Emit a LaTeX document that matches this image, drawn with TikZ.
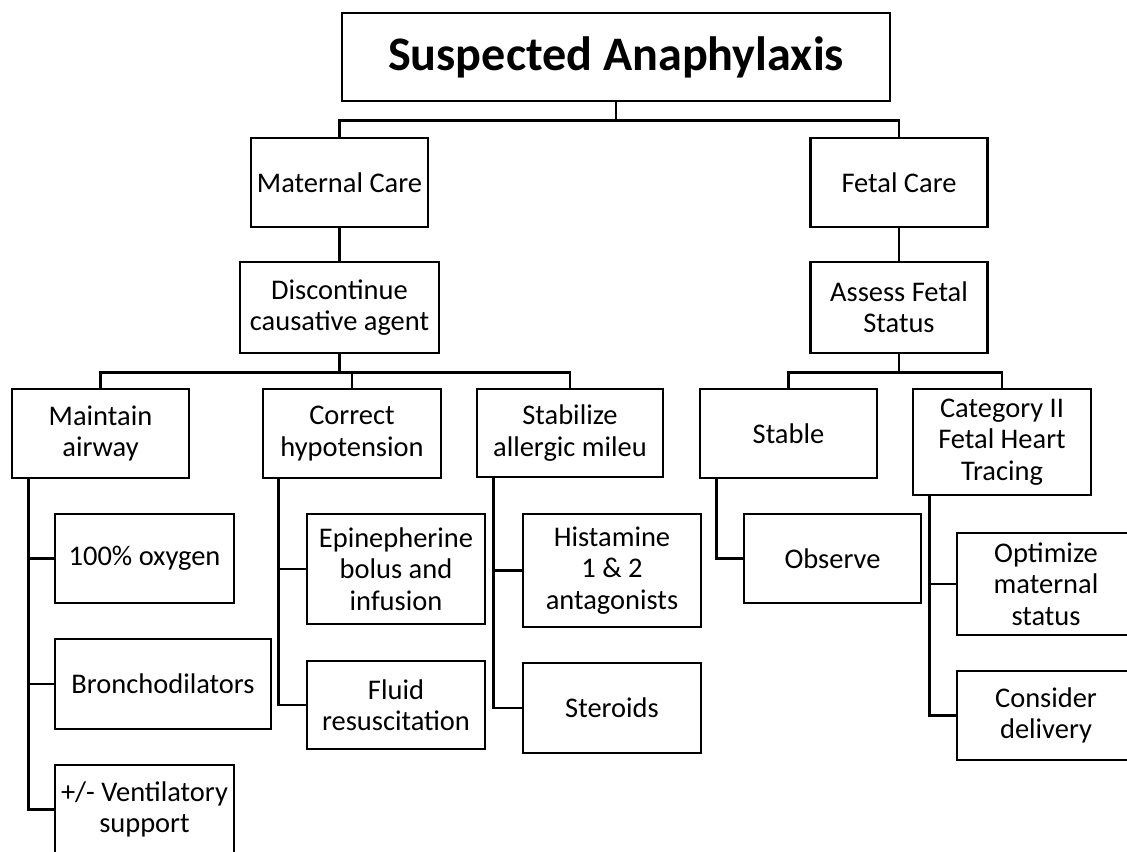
\documentclass[tikz,border=0pt]{standalone}
\usepackage{fontspec}
\setmainfont{Carlito}
\usepackage{tikz}
\usepackage{xcolor}

\begin{document}
\begin{tikzpicture}[
    box/.style={draw, line width=1.5pt, align=center, inner sep=2pt,
        font=\fontsize{16.2}{17.8}\selectfont},
    titlebox/.style={draw, line width=1.5pt, align=center,
        font=\fontsize{27.4}{32}\selectfont\bfseries},
    link/.style={line width=1.5pt}]
    \useasboundingbox (0,0) rectangle (22.54,-17.04);

    \node[titlebox, minimum width=10.96cm, minimum height=1.76cm] (title) at (12.32,-1.14) {Suspected Anaphylaxis};

    % Second and third rows
    \node[box, minimum width=3.54cm, minimum height=1.78cm] (maternal) at (6.79,-3.65) {Maternal Care};
    \node[box, minimum width=3.54cm, minimum height=1.78cm] (fetal) at (17.98,-3.65) {Fetal Care};
    \node[box, minimum width=3.98cm, minimum height=1.82cm] (discont) at (6.79,-6.15) {Discontinue\\causative agent};
    \node[box, minimum width=3.54cm, minimum height=1.82cm] (assess) at (17.98,-6.15) {Assess Fetal\\Status};

    % Fourth row
    \node[box, minimum width=3.54cm, minimum height=1.78cm] (airway) at (2.01,-8.67) {Maintain\\airway};
    \node[box, minimum width=3.56cm, minimum height=1.78cm] (hypo) at (7.04,-8.67) {Correct\\hypotension};
    \node[box, minimum width=3.72cm, minimum height=1.76cm] (allergic) at (11.40,-8.66) {Stabilize\\allergic mileu};
    \node[box, minimum width=3.54cm, minimum height=1.78cm] (stable) at (15.77,-8.67) {Stable};
    \node[box, minimum width=3.56cm, minimum height=2.12cm] (cat) at (20.04,-8.84) {Category II\\Fetal Heart\\Tracing};

    % Leaves
    \node[box, minimum width=3.58cm, minimum height=1.78cm] (oxygen) at (2.89,-11.17) {100\% oxygen};
    \node[box, minimum width=4.32cm, minimum height=1.80cm] (broncho) at (3.26,-13.68) {Bronchodilators};
    \node[box, minimum width=3.58cm, minimum height=1.78cm] (vent) at (2.89,-16.19) {+/- Ventilatory\\support};
    \node[box, minimum width=3.56cm, minimum height=2.20cm] (epi) at (7.92,-11.38) {Epinepherine\\bolus and\\infusion};
    \node[box, minimum width=3.56cm, minimum height=1.76cm] (fluid) at (7.92,-14.10) {Fluid\\resuscitation};
    \node[box, minimum width=3.56cm, minimum height=2.26cm] (hist) at (12.24,-11.41) {Histamine\\1 \& 2\\antagonists};
    \node[box, minimum width=3.56cm, minimum height=1.80cm] (steroids) at (12.24,-14.16) {Steroids};
    \node[box, minimum width=3.54cm, minimum height=1.78cm] (observe) at (16.65,-11.17) {Observe};
    \node[box, minimum width=3.56cm, minimum height=2.04cm] (optimize) at (20.92,-11.68) {Optimize\\maternal\\status};
    \node[box, minimum width=3.56cm, minimum height=1.78cm] (consider) at (20.92,-14.31) {Consider\\delivery};

    % Tree links
    \draw[link] (title.south) -- ++(0,-0.36) -| (maternal.north);
    \draw[link] (title.south) -- ++(0,-0.36) -| (fetal.north);
    \draw[link] (maternal.south) -- (discont.north);
    \draw[link] (fetal.south) -- (assess.north);
    \draw[link] (discont.south) -- ++(0,-0.36) -| (airway.north);
    \draw[link] (discont.south) -- ++(0,-0.36) -| (hypo.north);
    \draw[link] (discont.south) -- ++(0,-0.36) -| (allergic.north);
    \draw[link] (assess.south) -- ++(0,-0.36) -| (stable.north);
    \draw[link] (assess.south) -- ++(0,-0.36) -| (cat.north);

    % Side trunks to the leaves
    \draw[link] ([xshift=0.36cm]airway.south west) |- (oxygen.west);
    \draw[link] ([xshift=0.36cm]airway.south west) |- (broncho.west);
    \draw[link] ([xshift=0.36cm]airway.south west) |- (vent.west);
    \draw[link] ([xshift=0.34cm]hypo.south west) |- (epi.west);
    \draw[link] ([xshift=0.34cm]hypo.south west) |- (fluid.west);
    \draw[link] ([xshift=0.36cm]allergic.south west) |- (hist.west);
    \draw[link] ([xshift=0.36cm]allergic.south west) |- (steroids.west);
    \draw[link] ([xshift=0.36cm]stable.south west) |- (observe.west);
    \draw[link] ([xshift=0.36cm]cat.south west) |- (optimize.west);
    \draw[link] ([xshift=0.36cm]cat.south west) |- (consider.west);
\end{tikzpicture}
\end{document}
